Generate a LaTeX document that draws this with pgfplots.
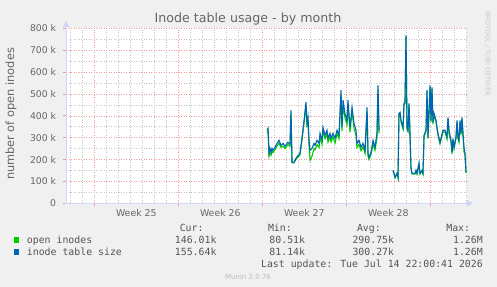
\documentclass[border=0pt]{standalone}
\usepackage{fontspec}
\setmainfont{DejaVu Sans}
\newfontfamily\monofont{DejaVu Sans Mono}
\usepackage{pgfplots}
\usepackage{pgfplotstable}
\pgfplotsset{compat=1.18}
\usetikzlibrary{arrows.meta}
\definecolor{bg}{HTML}{F0F0F0}
\definecolor{fontc}{HTML}{666666}
\definecolor{legc}{HTML}{555555}
\definecolor{axisc}{HTML}{CFD6F8}
\definecolor{gridc}{HTML}{C4C4C4}
\definecolor{mgridc}{HTML}{EE9C9C}
\definecolor{openc}{HTML}{00CC00}
\definecolor{sizec}{HTML}{0066B3}
\pgfplotstableread{
x blue green
14.39 334 322
14.48 343 330
14.56 229 215
14.64 251 232
14.73 233 220
14.81 251 238
14.89 242 232
15.06 256 245
15.23 274 262
15.39 288 275
15.56 265 255
15.73 274 262
15.89 261 250
16.14 279 268
16.31 270 260
16.39 425 410
16.48 187 185
16.64 187 185
16.81 206 202
16.98 219 212
17.14 229 220
17.31 302 290
17.48 379 365
17.64 462 445
17.73 366 350
17.81 393 380
17.89 288 265
17.98 242 197
18.14 251 215
18.31 274 250
18.39 265 245
18.56 288 268
18.73 274 255
18.81 320 300
18.98 288 270
19.06 347 330
19.23 311 295
19.39 334 318
19.48 297 280
19.64 320 305
19.73 297 280
19.89 320 305
20.06 297 275
20.23 334 318
20.39 311 295
20.56 517 495
20.64 347 330
20.73 471 450
20.89 411 390
21.06 379 360
21.14 471 450
21.31 347 325
21.48 439 420
21.64 366 345
21.81 334 310
21.89 274 255
22.06 288 270
22.23 256 240
22.39 274 258
22.56 242 228
22.73 439 420
22.81 229 215
22.89 210 200
23.06 233 222
23.23 288 270
23.39 256 242
23.56 320 300
23.64 539 520
23.73 334 320
24.30 nan nan
24.89 151 148
24.98 137 134
25.06 119 116
25.23 137 134
25.31 119 116
25.39 411 405
25.48 416 410
25.56 379 372
25.73 347 340
25.81 457 450
25.89 462 455
25.98 768 760
26.06 347 340
26.14 334 328
26.23 457 450
26.31 320 314
26.39 165 160
26.48 137 134
26.73 137 134
26.81 151 148
26.89 137 134
27.06 183 178
27.14 137 134
27.31 151 148
27.39 137 134
27.48 311 305
27.64 334 328
27.73 517 510
27.81 302 296
27.98 539 530
28.06 379 372
28.14 530 522
28.23 370 362
28.31 411 404
28.48 379 372
28.56 347 340
28.64 320 312
28.81 279 272
28.89 297 290
29.06 334 326
29.23 334 326
29.39 302 295
29.48 393 385
29.56 334 318
29.73 288 280
29.81 233 225
29.89 297 290
29.98 256 250
30.14 302 295
30.23 379 372
30.31 302 295
30.39 288 280
30.48 379 372
30.56 320 312
30.64 393 385
30.81 256 235
30.89 229 225
30.98 142 138
}\data
\begin{document}
\begin{tikzpicture}
\fill[bg] (0,0) rectangle (497bp,-287bp);
\useasboundingbox (0,0) rectangle (497bp,-287bp);
\begin{axis}[
  at={(66bp,-203.3bp)}, anchor=south west,
  scale only axis, width=401bp, height=175bp,
  xmin=-2.36, xmax=31.06, ymin=0, ymax=800,
  axis background/.style={fill=white},
  axis line style={draw=none},
  unbounded coords=jump,
  xtick={0,7,14,21,28}, xticklabels={},
  minor xtick={-2,-1,1,2,3,4,5,6,8,9,10,11,12,13,15,16,17,18,19,20,22,23,24,25,26,27,29,30,31},
  ytick={0,100,200,300,400,500,600,700,800},
  yticklabels={0,100 k,200 k,300 k,400 k,500 k,600 k,700 k,800 k},
  minor ytick={50,150,250,350,450,550,650,750},
  yticklabel style={font=\fontsize{9.3}{10}\selectfont, text=fontc, anchor=east, inner sep=0pt, xshift=-6.7bp},
  grid=both,
  major grid style={mgridc, line width=0.6bp, dash pattern=on 1bp off 1.5bp},
  minor grid style={gridc, line width=0.6bp, dash pattern=on 1bp off 1.5bp},
  tick align=outside, xtick pos=bottom, ytick pos=left,
  major tick length=3bp, minor tick length=0bp,
  major tick style={mgridc, line width=0.8bp, solid},
  clip=true,
]
\addplot[openc, line width=1.1bp] table[x=x, y=green] {\data};
\addplot[sizec, line width=1.1bp] table[x=x, y=blue] {\data};
\end{axis}
% axis lines with arrows
\draw[axisc, line width=1bp] (65bp,-203.3bp) -- (468bp,-203.3bp);
\fill[axisc] (473bp,-203.3bp) -- (467bp,-200bp) -- (467bp,-206.6bp) -- cycle;
\draw[axisc, line width=1bp] (66bp,-204bp) -- (66bp,-27bp);
\fill[axisc] (66bp,-21bp) -- (62.7bp,-27bp) -- (69.3bp,-27bp) -- cycle;
% title
\node[anchor=base, inner sep=0pt, text=fontc, font=\fontsize{12.7}{14}\selectfont] at (248bp,-22.6bp) {Inode table usage - by month};
% y label
\node[rotate=90, inner sep=0pt, text=fontc, font=\fontsize{11.4}{13}\selectfont] at (11bp,-114bp) {number of open inodes};
% week labels
\foreach \w/\xx in {25/136.3,26/220.3,27/304.3,28/388.3}{
  \node[anchor=base, inner sep=0pt, text=fontc, font=\fontsize{9.4}{10}\selectfont] at (\xx bp,-216.9bp) {Week \w};
}
% watermark
\node[rotate=-90, inner sep=0pt, text={rgb,255:red,200;green,200;blue,200}, font=\fontsize{6.6}{7}\selectfont] at (487.7bp,-53.5bp) {RRDTOOL / TOBI OETIKER};
% legend
\begin{scope}[every node/.style={inner sep=0pt, text=legc, font=\monofont\fontsize{9.9}{11}\selectfont}]
\node[anchor=base east] at (203.7bp,-231bp) {Cur:};
\node[anchor=base east] at (292bp,-231bp) {Min:};
\node[anchor=base east] at (381bp,-231bp) {Avg:};
\node[anchor=base east] at (470.3bp,-231bp) {Max:};
\fill[openc] (14bp,-237.3bp) rectangle (19.3bp,-242.7bp);
\node[anchor=base west] at (26.7bp,-243.3bp) {open inodes};
\node[anchor=base east] at (216.7bp,-243.3bp) {146.01k};
\node[anchor=base east] at (305.3bp,-243.3bp) {80.51k};
\node[anchor=base east] at (394.3bp,-243.3bp) {290.75k};
\node[anchor=base east] at (483bp,-243.3bp) {1.26M};
\fill[sizec] (14bp,-249.3bp) rectangle (19.3bp,-254.7bp);
\node[anchor=base west] at (26.7bp,-255.3bp) {inode table size};
\node[anchor=base east] at (216.7bp,-255.3bp) {155.64k};
\node[anchor=base east] at (305.3bp,-255.3bp) {81.14k};
\node[anchor=base east] at (394.3bp,-255.3bp) {300.27k};
\node[anchor=base east] at (483bp,-255.3bp) {1.26M};
\node[anchor=base east] at (483bp,-267.3bp) {Last update: Tue Jul 14 22:00:41 2026};
\end{scope}
\node[anchor=base, inner sep=0pt, text={rgb,255:red,190;green,190;blue,190}, font=\fontsize{7}{8}\selectfont] at (248bp,-279bp) {Munin 2.0.76};
\end{tikzpicture}
\end{document}
